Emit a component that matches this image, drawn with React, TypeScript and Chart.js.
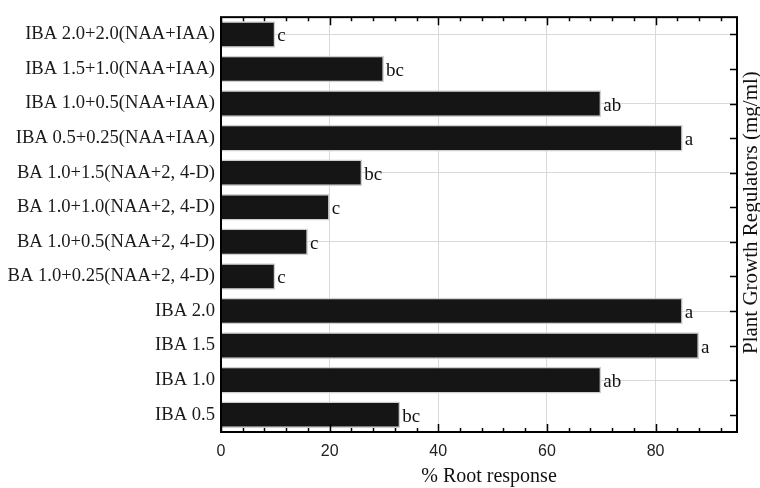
import React, { useEffect, useRef } from "react";
import { Chart, registerables } from "chart.js";

Chart.register(...registerables);

// ---- data (top to bottom) ----
const categories = [
  "IBA 2.0+2.0(NAA+IAA)",
  "IBA 1.5+1.0(NAA+IAA)",
  "IBA 1.0+0.5(NAA+IAA)",
  "IBA 0.5+0.25(NAA+IAA)",
  "BA 1.0+1.5(NAA+2, 4-D)",
  "BA 1.0+1.0(NAA+2, 4-D)",
  "BA 1.0+0.5(NAA+2, 4-D)",
  "BA 1.0+0.25(NAA+2, 4-D)",
  "IBA 2.0",
  "IBA 1.5",
  "IBA 1.0",
  "IBA 0.5",
];
const rootResponse = [10, 30, 70, 85, 26, 20, 16, 10, 85, 88, 70, 33];
const significance = ["c", "bc", "ab", "a", "bc", "c", "c", "c", "a", "a", "ab", "bc"];
const xTickValues = [0, 20, 40, 60, 80];
const xMinorStep = 4;
const xMin = 0;
const xMax = 95;
const xTitle = "% Root response";
const yTitle = "Plant Growth Regulators (mg/ml)";

const SERIF = '"Liberation Serif", "Times New Roman", serif';
const SANS = '"Liberation Sans", Arial, sans-serif';

const decorPlugin = {
  id: "decor",
  afterDatasetsDraw(chart: any) {
    const { ctx, chartArea: a, scales } = chart;
    const xs = scales.x;
    const ys = scales.y;
    ctx.save();

    // significance letters at bar ends
    const meta = chart.getDatasetMeta(0);
    ctx.font = `19px ${SERIF}`;
    ctx.fillStyle = "#111";
    ctx.textAlign = "left";
    ctx.textBaseline = "middle";
    meta.data.forEach((bar: any, i: number) => {
      ctx.fillText(significance[i], bar.x + 2, bar.y + 2);
    });

    // frame
    ctx.strokeStyle = "#000";
    ctx.lineWidth = 2;
    ctx.strokeRect(a.left, a.top, a.right - a.left, a.bottom - a.top);

    // inward ticks on top and bottom
    ctx.lineWidth = 1.5;
    ctx.beginPath();
    for (let v = xMin; v <= xMax; v += xMinorStep) {
      const px = Math.round(xs.getPixelForValue(v)) + 0.5;
      const len = xTickValues.includes(v) ? 8 : 4;
      ctx.moveTo(px, a.top);
      ctx.lineTo(px, a.top + len);
      ctx.moveTo(px, a.bottom);
      ctx.lineTo(px, a.bottom - len);
    }
    // inward ticks on right axis at categories
    categories.forEach((_, i) => {
      const py = Math.round(ys.getPixelForValue(i)) + 0.5;
      ctx.moveTo(a.right, py);
      ctx.lineTo(a.right - 7, py);
    });
    ctx.stroke();

    // x title
    ctx.fillStyle = "#111";
    ctx.font = `20px ${SERIF}`;
    ctx.textAlign = "center";
    ctx.textBaseline = "alphabetic";
    ctx.fillText(xTitle, (a.left + a.right) / 2 + 10, a.bottom + 50);

    // right title (reads bottom to top)
    ctx.font = `21px ${SERIF}`;
    ctx.translate(a.right + 20, (a.top + a.bottom) / 2 - 12);
    ctx.rotate(-Math.PI / 2);
    ctx.fillText(yTitle, 0, 0);

    ctx.restore();
  },
};

export default function App() {
  const canvasRef = useRef<HTMLCanvasElement | null>(null);

  useEffect(() => {
    const canvas = canvasRef.current;
    if (!canvas) return;
    const chart = new Chart(canvas, {
      type: "bar",
      data: {
        labels: categories,
        datasets: [
          {
            data: rootResponse,
            backgroundColor: "#151515",
            borderColor: "#cfcfcf",
            borderWidth: 1.5,
            borderSkipped: "start",
            barPercentage: 0.77,
            categoryPercentage: 1,
          },
        ],
      },
      options: {
        indexAxis: "y",
        animation: false,
        responsive: false,
        maintainAspectRatio: false,
        devicePixelRatio: 1,
        layout: { padding: { top: 9, right: 23, left: 0, bottom: 0 } },
        plugins: {
          legend: { display: false },
          tooltip: { enabled: false },
        },
        scales: {
          x: {
            type: "linear",
            min: xMin,
            max: xMax,
            afterBuildTicks: (s: any) => {
              s.ticks = xTickValues.map((v) => ({ value: v }));
            },
            afterFit: (s: any) => {
              s.height = 56;
            },
            grid: { color: "#d9d9d9", lineWidth: 1, drawTicks: false },
            border: { display: false },
            ticks: {
              font: { family: SANS, size: 16 },
              color: "#222",
              padding: 10,
              maxRotation: 0,
            },
          },
          y: {
            type: "category",
            afterFit: (s: any) => {
              s.width = 221;
            },
            grid: {
              offset: false,
              drawTicks: false,
              lineWidth: 1,
              color: (c: any) => (c.index % 2 === 0 ? "#d9d9d9" : "rgba(0,0,0,0)"),
            },
            border: { display: false },
            ticks: {
              font: { family: SERIF, size: 18.6 },
              color: "#1a1a1a",
              padding: 6,
              autoSkip: false,
            },
          },
        },
      },
      plugins: [decorPlugin],
    });
    return () => chart.destroy();
  }, []);

  return (
    <div style={{ position: "absolute", left: 0, top: 0, width: 760, height: 488 }}>
      <canvas ref={canvasRef} width={760} height={488} />
    </div>
  );
}
